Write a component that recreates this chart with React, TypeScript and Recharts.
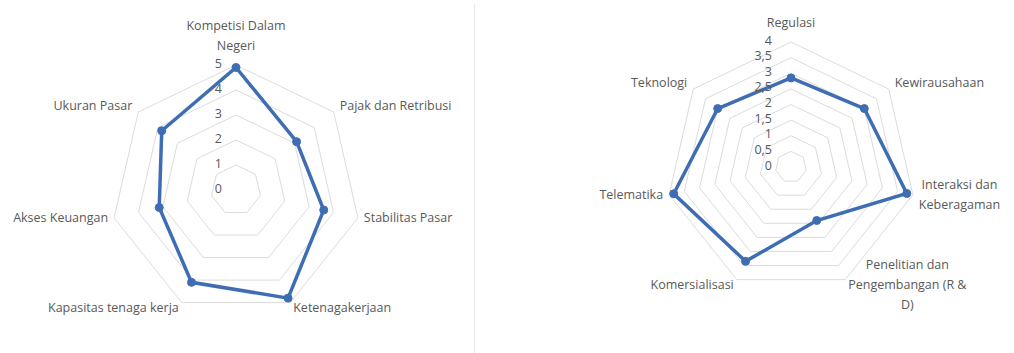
import React from "react";
import { PolarAngleAxis, PolarGrid, PolarRadiusAxis, Radar, RadarChart } from "recharts";

// left radar: 7 market factors, 0-5
const leftCategories = [
  "Kompetisi Dalam\nNegeri",
  "Pajak dan Retribusi",
  "Stabilitas Pasar",
  "Ketenagakerjaan",
  "Kapasitas tenaga kerja",
  "Akses Keuangan",
  "Ukuran Pasar",
];
const leftValues = [4.9, 3.1, 3.6, 4.8, 4.1, 3.15, 3.8];
const leftTicks = [0, 1, 2, 3, 4, 5];

// right radar: 7 innovation factors, 0-4
const rightCategories = [
  "Regulasi",
  "Kewirausahaan",
  "Interaksi dan\nKeberagaman",
  "Penelitian dan\nPengembangan (R &\nD)",
  "Komersialisasi",
  "Telematika",
  "Teknologi",
];
const rightValues = [2.85, 3.0, 3.8, 1.9, 3.35, 3.85, 3.0];
const rightTicks = [0, 0.5, 1, 1.5, 2, 2.5, 3, 3.5, 4];

const FONT = "'Open Sans', 'Noto Sans', sans-serif";
const FS = 12.5;
const TEXT = "#595959";
const BLUE = "#3f6db3";
const GRID = "#dcdcdc";
const R = 125;
const LINE_H = 20;

let ctx: CanvasRenderingContext2D | null = null;
function textWidth(s: string) {
  if (!ctx) ctx = document.createElement("canvas").getContext("2d");
  if (!ctx) return s.length * 6.5;
  ctx.font = `${FS}px ${FONT}`;
  return ctx.measureText(s).width;
}

function makeAngleTick(cx: number, cy: number) {
  return (props: any) => {
    const { x, y, payload } = props;
    const dx = x - cx;
    const dy = y - cy;
    const d = Math.sqrt(dx * dx + dy * dy) || 1;
    const ux = dx / d;
    const uy = dy / d;
    const vx = cx + R * ux;
    const vy = cy + R * uy;
    const lines = String(payload.value).split("\n");
    const w = Math.max(...lines.map(textWidth));
    const gap = Math.abs(uy) > 0.8 ? 3 : 6;
    let midX = vx;
    if (ux > 0.1) midX = vx + gap + w / 2;
    else if (ux < -0.1) midX = vx - gap - w / 2;
    let firstY: number;
    if (uy < -0.95) {
      firstY = vy - 20 - (lines.length - 1) * LINE_H;
    } else {
      const off = uy < -0.5 ? -7 : uy > 0.5 ? 5 : 0;
      firstY = vy + off - ((lines.length - 1) * LINE_H) / 2;
    }
    return (
      <g>
        {lines.map((l, i) => (
          <text
            key={i}
            x={midX}
            y={firstY + i * LINE_H}
            textAnchor="middle"
            dominantBaseline="central"
            fontFamily={FONT}
            fontSize={FS}
            fill={TEXT}
          >
            {l}
          </text>
        ))}
      </g>
    );
  };
}

function makeRadiusTick(offset: number) {
  return (props: any) => {
    const { x, y, payload } = props;
    return (
      <text
        x={x - offset}
        y={y - 2}
        textAnchor="end"
        dominantBaseline="central"
        fontFamily={FONT}
        fontSize={FS}
        fill={TEXT}
      >
        {String(payload.value).replace(".", ",")}
      </text>
    );
  };
}

const renderDot = (props: any) => (
  <circle key={`d-${props.index}`} cx={props.cx} cy={props.cy} r={4} fill={BLUE} stroke={BLUE} strokeWidth={1} />
);

type Props = {
  categories: string[];
  values: number[];
  ticks: number[];
  width: number;
  cx: number;
  cy: number;
  tickOffset: number;
};

function Spider({ categories, values, ticks, width, cx, cy, tickOffset }: Props) {
  const data = categories.map((c, i) => ({ name: c, value: values[i] }));
  const max = ticks[ticks.length - 1];
  return (
    <RadarChart width={width} height={353} data={data} cx={cx} cy={cy} outerRadius={R} margin={{ top: 0, right: 0, bottom: 0, left: 0 }}>
      <PolarGrid gridType="polygon" radialLines={false} stroke={GRID} strokeWidth={1} />
      <PolarAngleAxis dataKey="name" axisLine={false} tickLine={false} tick={makeAngleTick(cx, cy)} />
      <PolarRadiusAxis
        angle={90}
        type="number"
        domain={[0, max]}
        ticks={ticks as any}
        tickCount={ticks.length}
        axisLine={false}
        tickLine={false}
        tick={makeRadiusTick(tickOffset)}
      />
      <Radar
        dataKey="value"
        stroke={BLUE}
        strokeWidth={3.5}
        fill="none"
        fillOpacity={0}
        dot={renderDot}
        isAnimationActive={false}
      />
    </RadarChart>
  );
}

export default function App() {
  return (
    <div style={{ position: "absolute", left: 0, top: 0, width: 1014, height: 353, background: "#fff", overflow: "hidden" }}>
      <div style={{ position: "absolute", left: 0, top: 0 }}>
        <Spider categories={leftCategories} values={leftValues} ticks={leftTicks} width={476} cx={236} cy={190} tickOffset={14} />
      </div>
      <div style={{ position: "absolute", left: 474, top: 4, width: 1, height: 349, background: "#e8e8e8" }} />
      <div style={{ position: "absolute", left: 490, top: 0 }}>
        <Spider categories={rightCategories} values={rightValues} ticks={rightTicks} width={524} cx={301} cy={167} tickOffset={19} />
      </div>
    </div>
  );
}
